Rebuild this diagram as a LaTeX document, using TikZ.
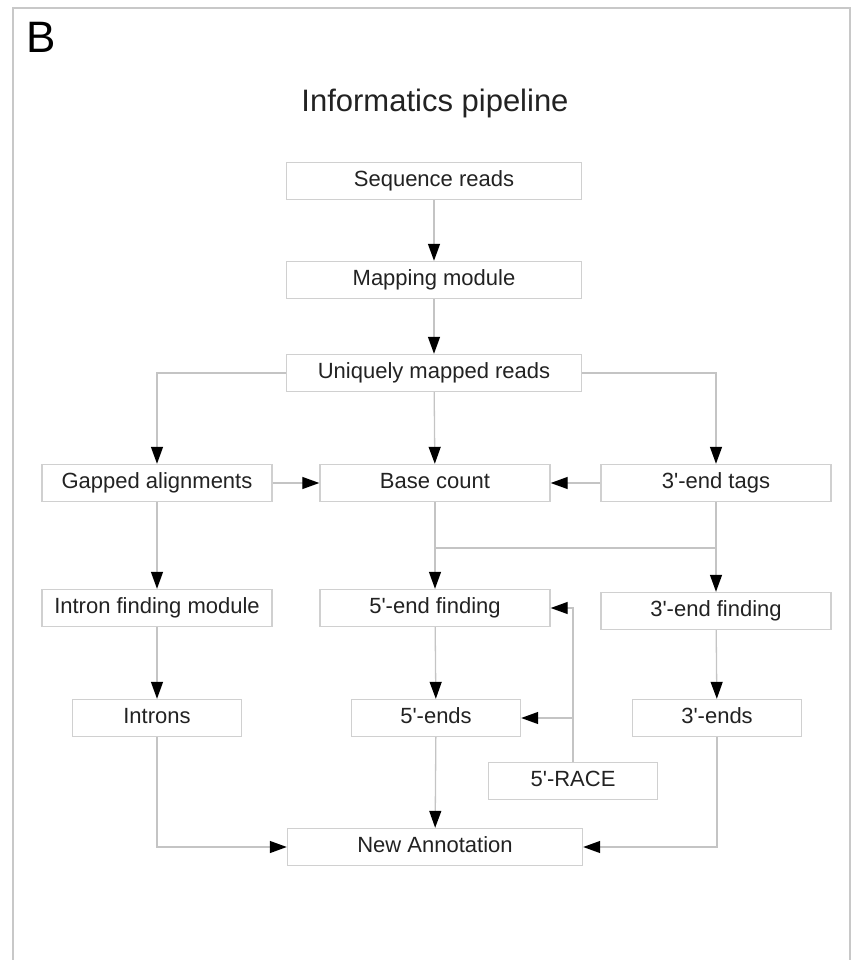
\documentclass[tikz,border=0pt]{standalone}
\usepackage{fontspec}
\setmainfont{Liberation Sans}[Ligatures=TeXOff]
\usetikzlibrary{arrows.meta}
\definecolor{linegray}{HTML}{C4C4C4}
\definecolor{boxgray}{HTML}{D0D0D0}
\definecolor{framegray}{HTML}{C8C8C8}
\definecolor{textgray}{HTML}{222222}
\tikzset{
  stage/.style={draw=boxgray, line width=1.4pt, minimum height=37pt, inner sep=0pt,
    text height=16pt, text depth=5pt,
    text=textgray, font=\fontsize{22}{26}\selectfont},
  widebox/.style={stage, minimum width=295pt},
  midbox/.style={stage, minimum width=230pt},
  smallbox/.style={stage, minimum width=169pt},
  link/.style={draw=linegray, line width=1.3pt},
  flow/.style={link, -{Triangle[length=17pt,width=12pt,color=black]}}
}
\begin{document}
\begin{tikzpicture}[x=1pt,y=-1pt]
\useasboundingbox (0,0) rectangle (859,960);
% Frame and headings
\draw[framegray, line width=2pt] (13,975) -- (13,8) -- (850,8) -- (850,975);
\node[anchor=base west, text=black, font=\fontsize{44}{50}\selectfont] (panel) at (23,53) {B};
\node[text=textgray, font=\fontsize{31}{36}\selectfont] (title) at (435,103) {Informatics pipeline};

% Main column
\node[widebox] (seq) at (434,181) {Sequence reads};
\node[widebox] (map) at (434,280) {Mapping module};
\node[widebox] (uniq) at (434,373) {Uniquely mapped reads};

% Second row
\node[midbox] (gap) at (157,483) {Gapped alignments};
\node[midbox] (base) at (435,483) {Base count};
\node[midbox] (tags) at (716,483) {3'-end tags};

% Finding modules
\node[midbox] (intron) at (157,608) {Intron finding module};
\node[midbox] (fivefind) at (435,608) {5'-end finding};
\node[midbox] (threefind) at (716,611) {3'-end finding};

% Results
\node[smallbox] (introns) at (157,718) {Introns};
\node[smallbox] (fiveends) at (436,718) {5'-ends};
\node[smallbox] (threeends) at (717,718) {3'-ends};
\node[smallbox] (race) at (573,781) {5'-RACE};
\node[widebox] (annot) at (435,847) {New Annotation};

% Connectors
\draw[flow] (seq) -- (map);
\draw[flow] (map) -- (uniq);
\draw[flow] (uniq.west) -| (gap.north);
\draw[flow] (uniq) -- (base);
\draw[flow] (uniq.east) -| (tags.north);
\draw[flow] (gap) -- (base);
\draw[flow] (tags) -- (base);
\draw[flow] (base) -- (fivefind);
\draw[flow] (tags) -- (threefind);
\coordinate (join5) at (435,548);
\coordinate (join3) at (716,548);
\draw[link] (join5) -- (join3);
\draw[flow] (gap) -- (intron);
\draw[flow] (intron) -- (introns);
\draw[flow] (fivefind) -- (fiveends);
\draw[flow] (threefind) -- (threeends);
\draw[flow] (race.north) |- (fivefind.east);
\draw[flow] (race.north |- fiveends.east) -- (fiveends.east);
\draw[flow] (fiveends) -- (annot);
\draw[flow] (introns.south) |- (annot.west);
\draw[flow] (threeends.south) |- (annot.east);
\end{tikzpicture}
\end{document}
